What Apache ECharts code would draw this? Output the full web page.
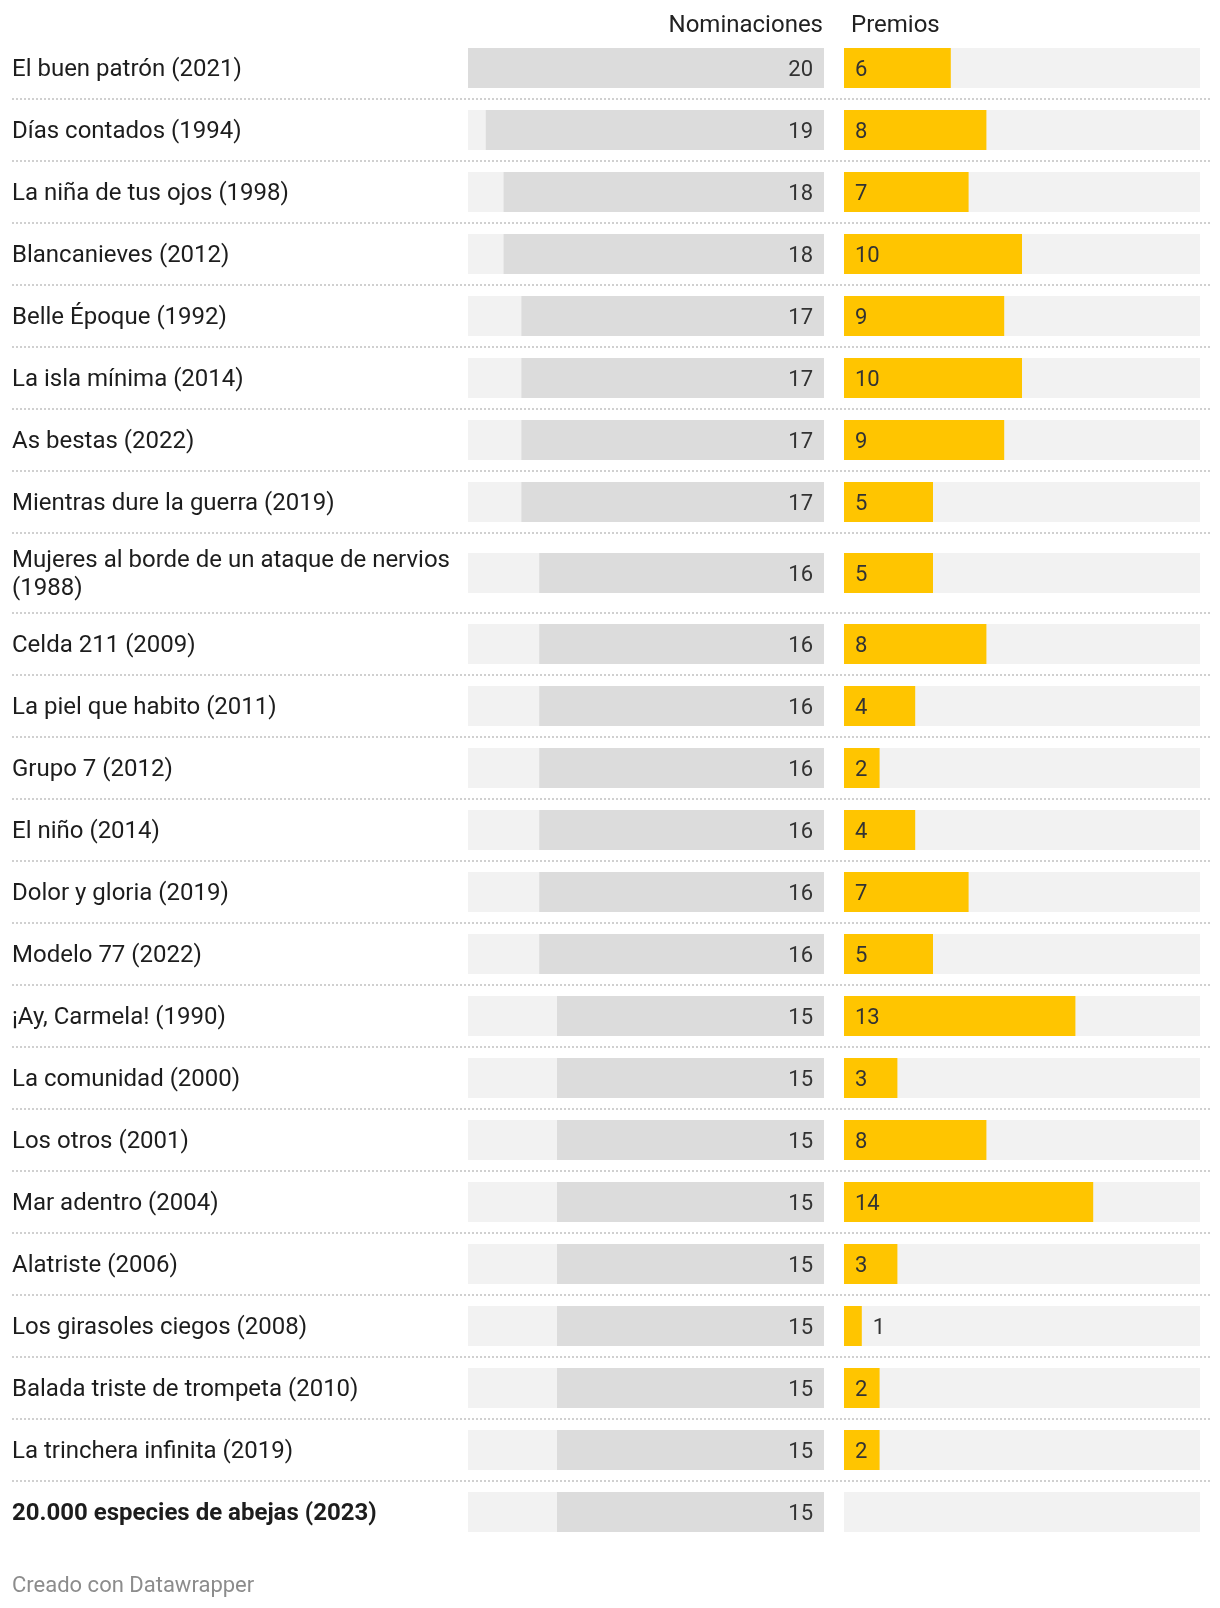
<!DOCTYPE html>
<html>
<head>
<meta charset="utf-8">
<script src="https://cdn.jsdelivr.net/npm/echarts@6/dist/echarts.min.js"></script>
<style>
html,body{margin:0;padding:0;background:#fff;}
#chart{width:1220px;height:1608px;}
</style>
</head>
<body>
<div id="chart"></div>
<script>
// ---- Data ----
const films = [
  "El buen patrón (2021)",
  "Días contados (1994)",
  "La niña de tus ojos (1998)",
  "Blancanieves (2012)",
  "Belle Époque (1992)",
  "La isla mínima (2014)",
  "As bestas (2022)",
  "Mientras dure la guerra (2019)",
  "Mujeres al borde de un ataque de nervios (1988)",
  "Celda 211 (2009)",
  "La piel que habito (2011)",
  "Grupo 7 (2012)",
  "El niño (2014)",
  "Dolor y gloria (2019)",
  "Modelo 77 (2022)",
  "¡Ay, Carmela! (1990)",
  "La comunidad (2000)",
  "Los otros (2001)",
  "Mar adentro (2004)",
  "Alatriste (2006)",
  "Los girasoles ciegos (2008)",
  "Balada triste de trompeta (2010)",
  "La trinchera infinita (2019)",
  "20.000 especies de abejas (2023)"
];
const nominaciones = [20,19,18,18,17,17,17,17,16,16,16,16,16,16,16,15,15,15,15,15,15,15,15,15];
const premios = [6,8,7,10,9,10,9,5,5,8,4,2,4,7,5,13,3,8,14,3,1,2,2,null];
const highlighted = ["20.000 especies de abejas (2023)"];
const headers = ["Nominaciones", "Premios"];
const footer = "Creado con Datawrapper";
const axisMax = 20;

// ---- Layout ----
const FONT = 'Roboto, "Noto Sans", sans-serif';
const FS_LABEL = 24;
const FS_VAL = 22;
const LABEL_W = 446;
const TOP = 37;
const ROW_H = 62, ROW_H2 = 80, BAR_H = 40;
const TXT_DY = 2;

const cvs = document.createElement('canvas').getContext('2d');
function lineCount(txt, bold){
  cvs.font = (bold ? 'bold ' : '') + FS_LABEL + 'px ' + FONT;
  const words = txt.split(' ');
  let lines = 1, cur = '';
  for (const w of words){
    const t = cur ? cur + ' ' + w : w;
    if (cvs.measureText(t).width > LABEL_W && cur){ lines++; cur = w; } else cur = t;
  }
  return lines;
}
const rowHeights = films.map(f => lineCount(f, highlighted.includes(f)) > 1 ? ROW_H2 : ROW_H);
const centers = [], bounds = [];
let acc = 0;
rowHeights.forEach(h => { centers.push(acc + h/2); acc += h; bounds.push(acc); });
const TOTAL = acc;

const chart = echarts.init(document.getElementById('chart'), null, {renderer:'canvas'});

const option = {
  animation: false,
  grid: [
    {left: 468, width: 356, top: TOP, height: TOTAL},
    {left: 844, width: 356, top: TOP, height: TOTAL}
  ],
  xAxis: [
    {gridIndex:0, type:'value', min:0, max:axisMax, inverse:true, show:false},
    {gridIndex:1, type:'value', min:0, max:axisMax, show:false}
  ],
  yAxis: [
    {gridIndex:0, type:'value', min:0, max:TOTAL, inverse:true, show:false},
    {gridIndex:1, type:'value', min:0, max:TOTAL, inverse:true, show:false}
  ],
  graphic: [
    {type:'text', x: 823, y: 26, style:{text: headers[0], font: FS_LABEL+'px '+FONT, fill:'#222', align:'right', verticalAlign:'middle'}},
    {type:'text', x: 851, y: 26, style:{text: headers[1], font: FS_LABEL+'px '+FONT, fill:'#222', align:'left', verticalAlign:'middle'}},
    {type:'text', x: 12, y: 1586, style:{text: footer, font: '22px '+FONT, fill:'#8c8c8c', align:'left', verticalAlign:'middle'}}
  ],
  series: [
    {
      type:'custom', xAxisIndex:0, yAxisIndex:0, clip:false,
      data: nominaciones.map((v,i)=>[v, centers[i], i]),
      renderItem: function(params, api){
        const v = api.value(0), yc0 = api.value(1), i = api.value(2);
        const p0 = api.coord([0, yc0]);
        const pMax = api.coord([axisMax, yc0]);
        const pv = api.coord([v, yc0]);
        const yc = p0[1];
        const children = [];
        children.push({type:'rect', shape:{x:pMax[0], y:yc-BAR_H/2, width:p0[0]-pMax[0], height:BAR_H}, style:{fill:'#f2f2f2'}});
        children.push({type:'rect', shape:{x:pv[0], y:yc-BAR_H/2, width:p0[0]-pv[0], height:BAR_H}, style:{fill:'#dcdcdc'}});
        children.push({type:'text', x:p0[0]-11, y:yc+TXT_DY, style:{text:String(v), font:FS_VAL+'px '+FONT, fill:'#333', align:'right', verticalAlign:'middle'}});
        // row label
        const bold = highlighted.includes(films[i]);
        children.push({type:'text', x:12, y:yc+TXT_DY, style:{text:films[i], width:LABEL_W, overflow:'break', lineHeight:28, font:(bold?'bold ':'')+FS_LABEL+'px '+FONT, fill:'#1d1d1d', align:'left', verticalAlign:'middle'}});
        // divider below row
        if (i < films.length - 1){
          const yb = api.coord([0, bounds[i]])[1];
          children.push({type:'line', shape:{x1:12, y1:yb, x2:1210, y2:yb}, style:{stroke:'#d0d0d0', lineWidth:2, lineDash:[2,2]}});
        }
        return {type:'group', children};
      }
    },
    {
      type:'custom', xAxisIndex:1, yAxisIndex:1, clip:false,
      data: premios.map((v,i)=>[v == null ? 0 : v, centers[i], v == null ? 0 : 1]),
      renderItem: function(params, api){
        const v = api.value(0), yc0 = api.value(1), has = api.value(2);
        const p0 = api.coord([0, yc0]);
        const pMax = api.coord([axisMax, yc0]);
        const pv = api.coord([v, yc0]);
        const yc = p0[1];
        const children = [];
        children.push({type:'rect', shape:{x:p0[0], y:yc-BAR_H/2, width:pMax[0]-p0[0], height:BAR_H}, style:{fill:'#f2f2f2'}});
        if (has){
          const w = pv[0]-p0[0];
          children.push({type:'rect', shape:{x:p0[0], y:yc-BAR_H/2, width:w, height:BAR_H}, style:{fill:'#ffc500'}});
          cvs.font = FS_VAL+'px '+FONT;
          const tw = cvs.measureText(String(v)).width;
          const inside = w >= tw + 22;
          children.push({type:'text', x: inside ? p0[0]+11 : pv[0]+11, y:yc+TXT_DY, style:{text:String(v), font:FS_VAL+'px '+FONT, fill:'#333', align:'left', verticalAlign:'middle'}});
        }
        return {type:'group', children};
      }
    }
  ]
};
chart.setOption(option);
</script>
</body>
</html>
